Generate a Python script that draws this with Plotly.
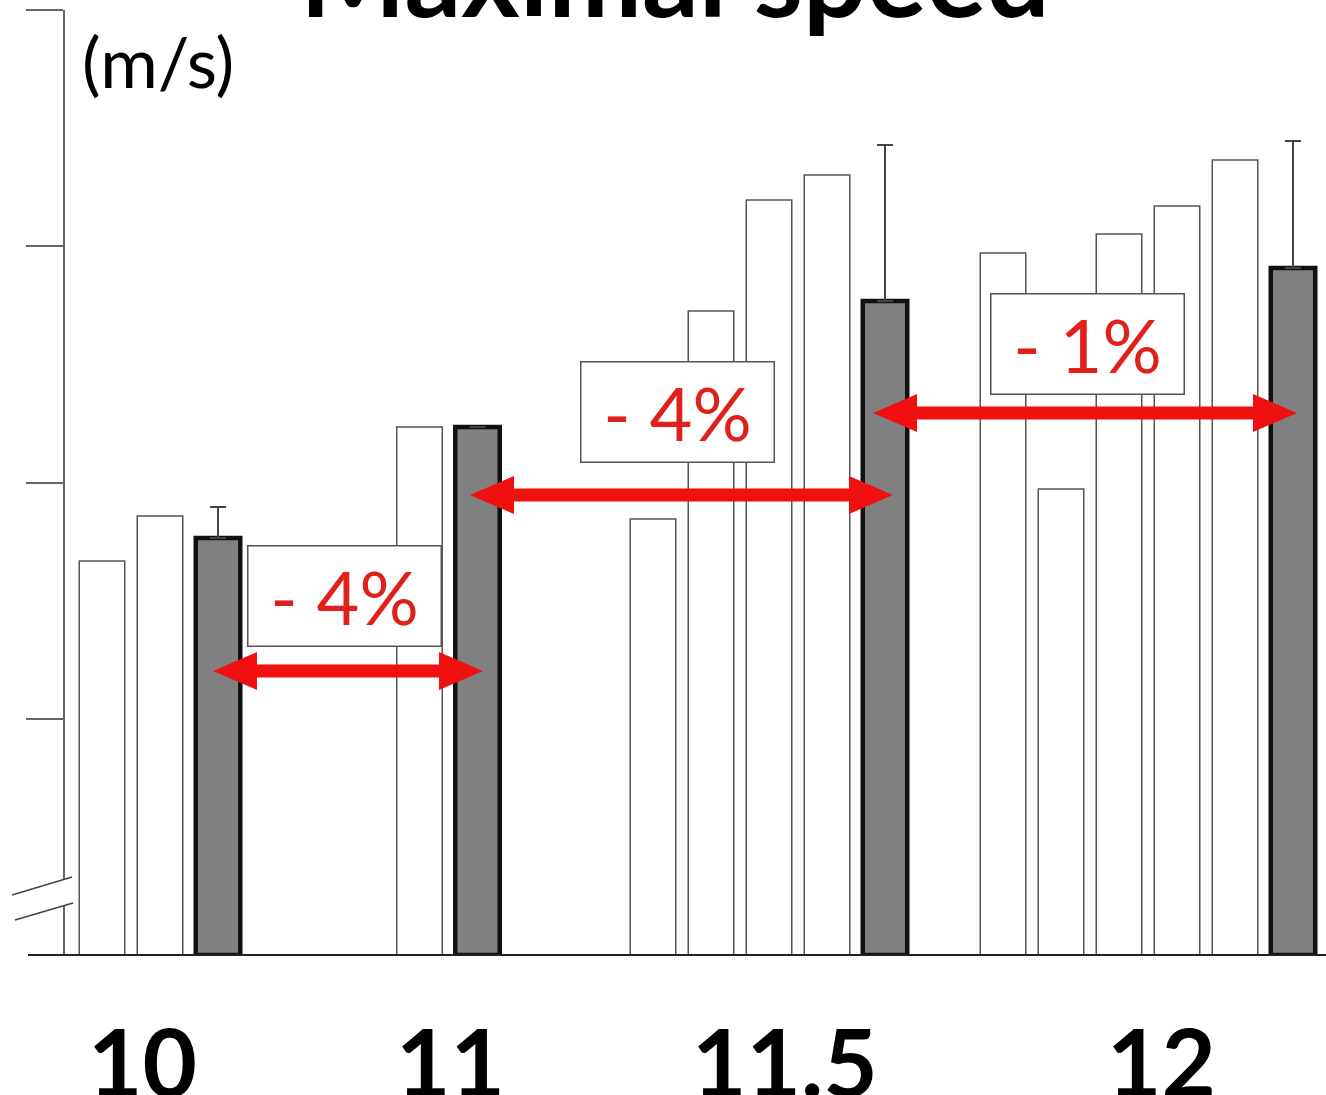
import plotly.graph_objects as go

# ---------------- data ----------------
groups = ["10", "11", "11.5", "12"]
white_values = [
    [1.668, 1.858],
    [2.235],
    [1.846, 2.726, 3.196, 3.302],
    [2.971, 1.972, 3.052, 3.170, 3.365],
]
grey_values = [1.765, 2.235, 2.768, 2.908]
grey_errors = [0.131, 0.0, 0.661, 0.538]
change_labels = ["- 4%", "- 4%", "- 1%"]
y_unit_label = "(m/s)"
title_text = "Maximal speed"
y_ticks = [1, 2, 3, 4]

# ---------------- layout helpers ----------------
W, H = 1326, 1095
ML, MB, MT = 65, 140, 10
PX_PER_UNIT = (H - MB - MT) / 4.0
PITCH = 58
BAR_W = 45.5
grey_x = [218, 477.5, 885, 1293]          # centre of the grey (last) bar of each group
label_x = [142, 450, 785, 1161]           # group label centres
arrow_x0 = [213, 470, 873]
arrow_x1 = [483, 893, 1297]
arrow_py = [671, 495, 413]
box_x = [344.5, 677.5, 1087.5]
box_py = [596, 411.5, 344]
HEAD_LEN = 44
HEAD_HALF = 19
SHAFT_HALF = 6.5
RED_ARROW = "#F01010"
RED_TEXT = "#E0201A"
FONT = "Lato"


def val(py):
    """pixel row -> y value"""
    return (H - MB - py) / PX_PER_UNIT


def px_x(px):
    return (px - ML) / (W - ML)


def px_y(py):
    return (H - MB - py) / (H - MB - MT)


wx, wy = [], []
for gi, vals in enumerate(white_values):
    n = len(vals)
    for i, v in enumerate(vals):
        wx.append(grey_x[gi] - (n - i) * PITCH)
        wy.append(v)

fig = go.Figure()
fig.add_trace(go.Bar(
    x=wx, y=wy, width=BAR_W,
    marker=dict(color="white", line=dict(color="#555555", width=1.5)),
    showlegend=False, hoverinfo="skip",
))
fig.add_trace(go.Bar(
    x=grey_x, y=grey_values, width=BAR_W - 1,
    marker=dict(color="#808080", line=dict(color="#111111", width=4.5)),
    error_y=dict(type="data", array=grey_errors, arrayminus=[0] * len(grey_errors),
                 symmetric=False, color="#444444", thickness=2, width=8),
    showlegend=False, hoverinfo="skip",
))

shapes = []
# double-headed arrows (built in pixel-x / value-y space)
for i in range(len(change_labels)):
    yc = val(arrow_py[i])
    hh = HEAD_HALF / PX_PER_UNIT
    sh = SHAFT_HALF / PX_PER_UNIT
    x0, x1 = arrow_x0[i], arrow_x1[i]
    pts = [
        (x0, yc), (x0 + HEAD_LEN, yc + hh), (x0 + HEAD_LEN, yc + sh),
        (x1 - HEAD_LEN, yc + sh), (x1 - HEAD_LEN, yc + hh), (x1, yc),
        (x1 - HEAD_LEN, yc - hh), (x1 - HEAD_LEN, yc - sh),
        (x0 + HEAD_LEN, yc - sh), (x0 + HEAD_LEN, yc - hh),
    ]
    path = "M" + " L".join(f"{px},{py}" for px, py in pts) + " Z"
    shapes.append(dict(type="path", xref="x", yref="y", path=path,
                       fillcolor=RED_ARROW, line=dict(width=0), layer="above"))

annotations = []
# change label boxes
for i, lab in enumerate(change_labels):
    annotations.append(dict(
        x=box_x[i], y=val(box_py[i]), xref="x", yref="y",
        text=lab, showarrow=False,
        font=dict(family=FONT, size=74, color=RED_TEXT),
        bgcolor="white", bordercolor="#555555", borderwidth=1.5, borderpad=1,
        width=190, height=97, align="center", valign="middle",
        xanchor="center", yanchor="middle",
    ))
# unit label
annotations.append(dict(
    x=158, y=val(61), xref="x", yref="y", text=y_unit_label, showarrow=False,
    font=dict(family=FONT, size=70, color="black"),
    xanchor="center", yanchor="middle",
))
# title (cut off at top)
annotations.append(dict(
    x=675, y=px_y(-27), xref="x", yref="paper", text=title_text, showarrow=False,
    font=dict(family=FONT, size=112, color="black", weight="bold"),
    xanchor="center", yanchor="middle",
))
# group labels
for i, g in enumerate(groups):
    annotations.append(dict(
        x=label_x[i], y=px_y(1060), xref="x", yref="paper", text=g, showarrow=False,
        font=dict(family=FONT, size=94, color="black", weight="bold"),
        xanchor="center", yanchor="middle",
    ))

shapes += [
    # baseline
    dict(type="line", xref="paper", yref="paper", x0=px_x(28), x1=1.0, y0=0, y1=0,
         line=dict(color="#222222", width=2), layer="above"),
    # axis break gap
    dict(type="rect", xref="paper", yref="paper", x0=px_x(58), x1=px_x(71),
         y0=px_y(906), y1=px_y(880), fillcolor="white", line=dict(width=0), layer="above"),
    dict(type="line", xref="paper", yref="paper", x0=px_x(12), y0=px_y(895),
         x1=px_x(72), y1=px_y(877), line=dict(color="#444444", width=1.5), layer="above"),
    dict(type="line", xref="paper", yref="paper", x0=px_x(15), y0=px_y(920),
         x1=px_x(73), y1=px_y(903), line=dict(color="#444444", width=1.5), layer="above"),
]

fig.update_layout(
    width=W, height=H,
    margin=dict(l=ML, r=0, t=MT, b=MB, pad=0),
    paper_bgcolor="white", plot_bgcolor="white",
    barmode="overlay",
    xaxis=dict(range=[ML, W], showgrid=False, zeroline=False, showline=False,
               showticklabels=False, ticks=""),
    yaxis=dict(range=[0, 4], showgrid=False, zeroline=False, showline=True,
               linecolor="#666666", linewidth=2, ticks="outside", tickvals=y_ticks,
               ticklen=37, tickwidth=1.5, tickcolor="#666666", showticklabels=False),
    annotations=annotations,
    shapes=shapes,
)

fig.write_html("out.html")
